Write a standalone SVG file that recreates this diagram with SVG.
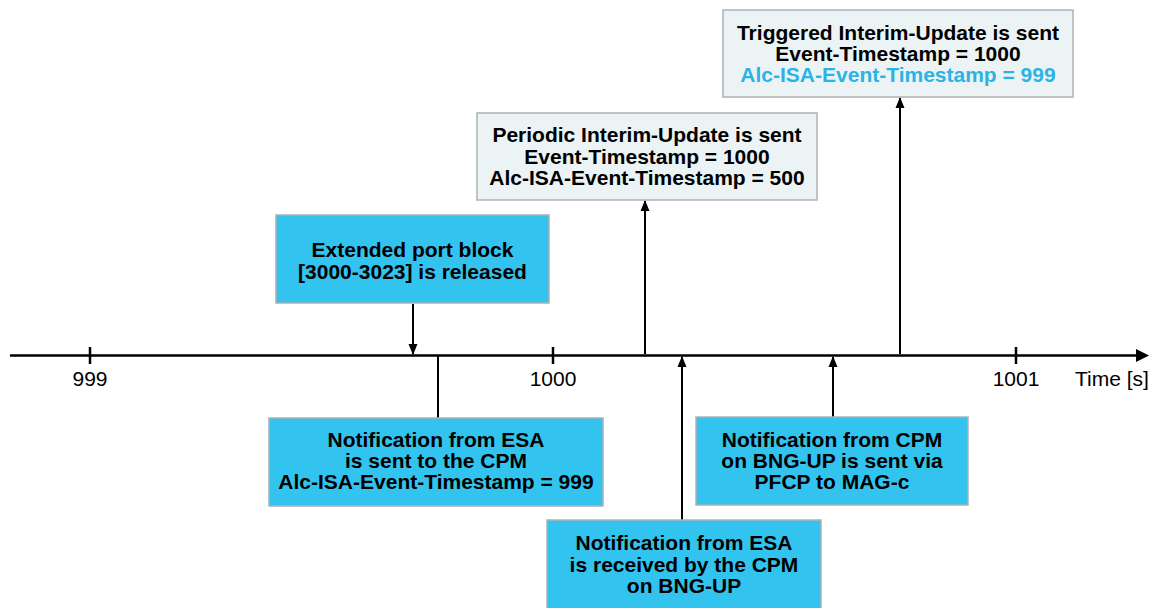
<svg xmlns="http://www.w3.org/2000/svg" width="1155" height="608" viewBox="0 0 1155 608">
<style>
.bl{fill:#33C3EF;stroke:#A9B3B8;stroke-width:1.5}
.gr{fill:#EBF3F5;stroke:#A9B3B8;stroke-width:1.5}
.t{font-family:"Liberation Sans",Arial,sans-serif;font-weight:bold;font-size:21px;fill:#000;text-anchor:middle}
.c{fill:#2BB3E5}
.ax{font-family:"Liberation Sans",Arial,sans-serif;font-size:21px;fill:#000}
.ln{stroke:#000;stroke-width:2;fill:none}
</style>
<defs>
<marker id="ah" markerWidth="11" markerHeight="10" refX="10" refY="5" orient="auto" markerUnits="userSpaceOnUse">
<path d="M0,0.5 L11,5 L0,9.5 Z" fill="#000"/>
</marker>
</defs>
<g id="axis">
<line x1="10" y1="355.5" x2="1138" y2="355.5" stroke="#000" stroke-width="2.5"/>
<path d="M1136,349 L1149,355.5 L1136,362 Z" fill="#000"/>
<line x1="90" y1="347" x2="90" y2="364" stroke="#000" stroke-width="2.5"/>
<line x1="553" y1="347" x2="553" y2="364" stroke="#000" stroke-width="2.5"/>
<line x1="1016" y1="347" x2="1016" y2="364" stroke="#000" stroke-width="2.5"/>
<text class="ax" x="90" y="386" text-anchor="middle">999</text>
<text class="ax" x="553" y="386" text-anchor="middle">1000</text>
<text class="ax" x="1016" y="386" text-anchor="middle">1001</text>
<text class="ax" x="1075" y="386">Time [s]</text>
</g>
<g id="connectors">
<line class="ln" x1="900" y1="354" x2="900" y2="98" marker-end="url(#ah)"/>
<line class="ln" x1="645" y1="354" x2="645" y2="201" marker-end="url(#ah)"/>
<line class="ln" x1="413" y1="304" x2="413" y2="354" marker-end="url(#ah)"/>
<line class="ln" x1="438" y1="356" x2="438" y2="418"/>
<line class="ln" x1="682" y1="520" x2="682" y2="357" marker-end="url(#ah)"/>
<line class="ln" x1="833" y1="417" x2="833" y2="357" marker-end="url(#ah)"/>
</g>
<g id="triggered">
<rect class="gr" x="723" y="10" width="350" height="87"/>
<text class="t" x="898" y="40">Triggered Interim-Update is sent</text>
<text class="t" x="898" y="61">Event-Timestamp = 1000</text>
<text class="t c" x="898" y="82">Alc-ISA-Event-Timestamp = 999</text>
</g>
<g id="periodic">
<rect class="gr" x="477" y="113" width="340" height="87"/>
<text class="t" x="647" y="142">Periodic Interim-Update is sent</text>
<text class="t" x="647" y="163.5">Event-Timestamp = 1000</text>
<text class="t" x="647" y="185">Alc-ISA-Event-Timestamp = 500</text>
</g>
<g id="extended">
<rect class="bl" x="276" y="215" width="273" height="88"/>
<text class="t" x="412.5" y="257">Extended port block</text>
<text class="t" x="412.5" y="279">[3000-3023] is released</text>
</g>
<g id="esa-sent">
<rect class="bl" x="269" y="418" width="334" height="88"/>
<text class="t" x="436" y="447">Notification from ESA</text>
<text class="t" x="436" y="468">is sent to the CPM</text>
<text class="t" x="436" y="489">Alc-ISA-Event-Timestamp = 999</text>
</g>
<g id="esa-received">
<rect class="bl" x="547" y="520" width="274" height="92"/>
<text class="t" x="684" y="550">Notification from ESA</text>
<text class="t" x="684" y="571.5">is received by the CPM</text>
<text class="t" x="684" y="593">on BNG-UP</text>
</g>
<g id="cpm-sent">
<rect class="bl" x="696" y="417" width="272" height="88"/>
<text class="t" x="832" y="447">Notification from CPM</text>
<text class="t" x="832" y="468">on BNG-UP is sent via</text>
<text class="t" x="832" y="489">PFCP to MAG-c</text>
</g>
</svg>
